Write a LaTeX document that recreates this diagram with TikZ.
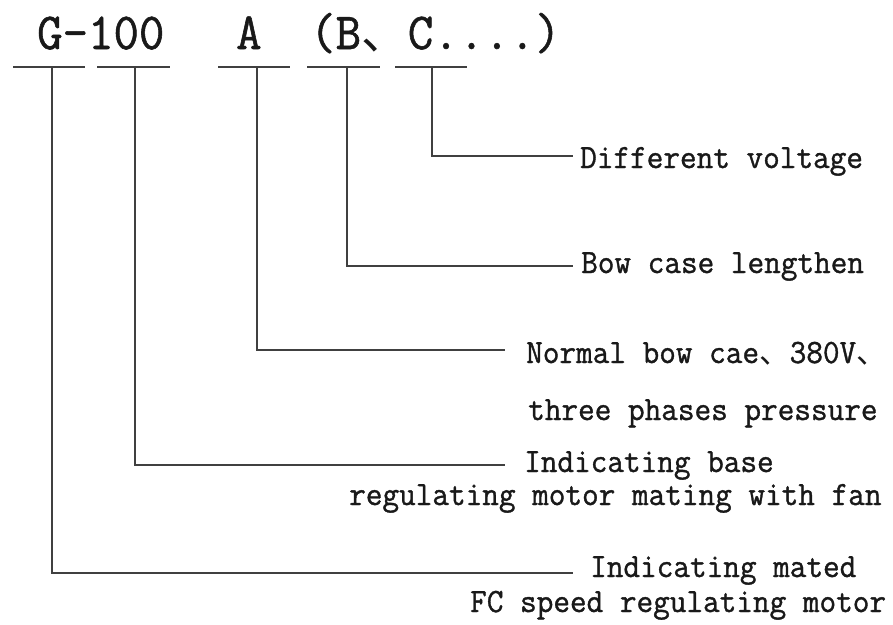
\documentclass[tikz,border=0pt]{standalone}
\usepackage{fontspec}
\setmonofont[FakeStretch=0.95,FakeBold=1.1]{Latin Modern Mono}
\newfontfamily\cjk[Scale=0.9]{Noto Sans CJK SC}
\begin{document}
\begin{tikzpicture}[x=1pt,y=-1pt,every node/.style={black!90,inner sep=0pt,anchor=base west},
	code/.style={font=\ttfamily\fontsize{52}{52}\selectfont},
	lbl/.style={font=\ttfamily\fontsize{34}{34}\selectfont},
	lead/.style={draw=black!75,line width=1.8pt}]
	\useasboundingbox (0,0) rectangle (893,624);
	% model code
	\node[code] (cG) at (37,49) {G-100};
	\node[code] (cA) at (236,49) {A};
	\node[code] (cB) at (310,49) {(B{\cjk 、}C....)};
	% underlines
	\foreach \a/\b in {13/85,97/170,218/290,307/380,395/467}
		\draw[lead] (\a,67) -- (\b,67);
	\coordinate (uG) at (52,67);
	\coordinate (u1) at (135,67);
	\coordinate (uA) at (257,67);
	\coordinate (uB) at (347,67);
	\coordinate (uC) at (432,67);
	% explanations
	\node[lbl] (lC) at (580,168) {Different voltage};
	\node[lbl] (lB) at (581,273) {Bow case lengthen};
	\node[lbl] (lA1) at (526,363) {Normal bow cae{\cjk 、}380V{\cjk 、}};
	\node[lbl] (lA2) at (528,420) {three phases pressure};
	\node[lbl] (l1a) at (524,472) {Indicating base};
	\node[lbl] (l1b) at (349,505) {regulating motor mating with fan};
	\node[lbl] (lGa) at (590,577) {Indicating mated};
	\node[lbl] (lGb) at (470,612) {FC speed regulating motor};
	% leaders
	\coordinate (eC) at (573,156);
	\coordinate (eB) at (573,266);
	\coordinate (eA) at (505,350);
	\coordinate (e1) at (505,465);
	\coordinate (eG) at (573,573);
	\draw[lead] (uC) |- (eC);
	\draw[lead] (uB) |- (eB);
	\draw[lead] (uA) |- (eA);
	\draw[lead] (u1) |- (e1);
	\draw[lead] (uG) |- (eG);
\end{tikzpicture}
\end{document}
